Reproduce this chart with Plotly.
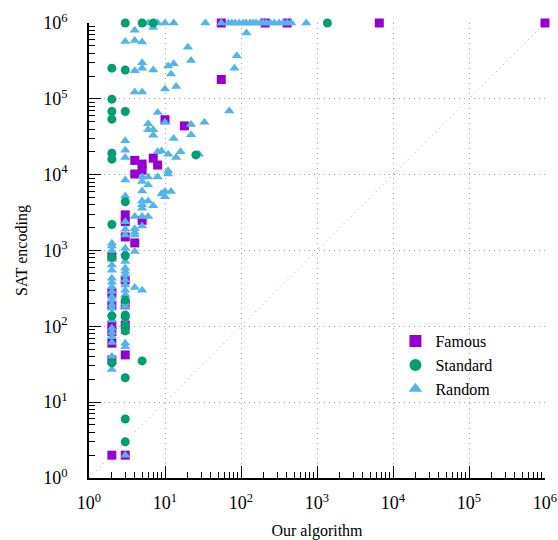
import plotly.graph_objects as go

# ---- data ----
famous_x = [2, 3, 1e6, 6600, 55, 208, 405, 55, 10, 18, 4, 5, 5, 7, 8, 4,
            3, 3, 5, 4, 3, 2, 3, 2, 2, 3, 3, 2, 2, 3, 2, 2]
famous_y = [2, 2, 1e6, 1e6, 1e6, 1e6, 1e6, 180000, 53000, 44000, 15400, 13800, 11500, 16500, 13400, 10200,
            2950, 2400, 2500, 1260, 1510, 824, 409, 276, 192, 192, 104, 104, 60, 42, 36, 85]

standard_x = [3, 5, 7, 1370, 2, 3, 2, 2, 3, 2, 2, 2, 25.5, 3, 2, 2, 3, 3, 2, 3, 3, 3, 3, 2, 5, 3, 3, 3]
standard_y = [1e6, 1e6, 1e6, 1e6, 254000, 240000, 99000, 68000, 68000, 54000, 19200, 16000, 18200, 4400, 2200,
              815, 850, 223, 137, 141, 133, 101, 87, 33, 35, 21, 6, 3]

random_top_x = [6, 8, 10, 13, 34, 55, 68, 76, 84, 95, 107, 117, 132, 145, 158, 179, 195, 215, 243, 274,
                317, 360, 405, 458, 722]
random_other_x = [7, 4, 3, 4, 5, 20, 118, 88, 82, 22, 5, 5, 4, 7, 11, 13, 12, 4, 5, 10, 14, 70, 8, 10, 6,
                  22, 33, 6, 7, 7, 13, 22, 3, 3, 3, 8, 9, 11, 16, 14, 28, 11, 11, 3, 5, 6, 5, 6, 8, 5, 9,
                  10, 12, 10, 3, 5, 6, 5, 7, 5, 4, 6, 5, 5, 3, 4, 3, 3, 4, 4, 4, 4, 5, 3]
random_other_y = [870000, 800000, 570000, 590000, 560000, 480000, 740000, 370000, 254000, 320000, 300000,
                  254000, 235000, 240000, 270000, 290000, 213000, 123000, 123000, 135000, 145000, 69000,
                  66000, 49000, 47000, 46000, 49000, 39000, 39000, 33000, 30000, 33500, 28000, 21000,
                  16800, 20000, 20500, 18600, 20000, 16800, 18600, 11300, 10200, 8500, 9300, 9300, 8100,
                  7300, 9300, 6100, 5600, 5100, 6000, 6000, 5250, 4500, 4500, 4000, 3900, 3600, 2800,
                  2800, 2800, 2100, 2400, 1930, 1900, 1600, 1740, 1600, 970, 325, 300, 2]
random_col2_y = [1250, 1150, 1000, 770, 645, 550, 430, 380, 333, 287, 245, 223, 192, 173, 148, 121, 94,
                 83, 73, 61, 40, 27]
random_col3_y = [1070, 940, 715, 583, 527, 477, 409, 350, 300, 260, 202, 182, 141, 110, 85, 60, 54]

random_x = random_top_x + random_other_x + [2] * len(random_col2_y) + [3] * len(random_col3_y)
random_y = [1e6] * len(random_top_x) + random_other_y + random_col2_y + random_col3_y

diag = [1, 1e6]
decades = [0, 1, 2, 3, 4, 5, 6]
tick_vals = [10 ** k for k in decades]
tick_text = [f"10<sup>{k}</sup>" for k in decades]

FONT = "Liberation Serif, Times New Roman, serif"
PURPLE = "#9400D3"
GREEN = "#009E73"
BLUE = "#56B4E9"
GRID = "#a0a0a0"

fig = go.Figure()
fig.add_trace(go.Scatter(x=diag, y=diag, mode="lines", showlegend=False, hoverinfo="skip",
                         line=dict(color=GRID, width=1, dash="1px,4px")))
fig.add_trace(go.Scatter(x=famous_x, y=famous_y, mode="markers", name="Famous", legendrank=1,
                         marker=dict(symbol="square", size=9, color=PURPLE), cliponaxis=False))
fig.add_trace(go.Scatter(x=random_x, y=random_y, mode="markers", name="Random", legendrank=3,
                         marker=dict(symbol="triangle-up", size=9, color=BLUE), cliponaxis=False))
fig.add_trace(go.Scatter(x=standard_x, y=standard_y, mode="markers", name="Standard", legendrank=2,
                         marker=dict(symbol="circle", size=9, color=GREEN), cliponaxis=False))

minor_vals = [m * 10 ** k for k in range(6) for m in range(2, 10)]

axis_common = dict(
    type="log", range=[0, 6], tickvals=tick_vals, ticktext=tick_text, automargin=False,
    ticks="inside", ticklen=12, tickwidth=1.2, tickcolor="black",
    showline=True, linecolor="black", linewidth=1.5, mirror=False,
    showgrid=True, gridcolor=GRID, griddash="1px,4px", gridwidth=1,
    zeroline=False, tickfont=dict(family=FONT, size=18, color="black"),
    minor=dict(tickvals=minor_vals, ticks="inside", ticklen=6, tickcolor="black", tickwidth=1, showgrid=False),
)

fig.update_xaxes(**axis_common, ticklabelstandoff=8,
                 title=dict(text="Our algorithm", font=dict(family=FONT, size=16, color="black"), standoff=16))
fig.update_yaxes(**axis_common, ticklabelstandoff=16,
                 title=dict(text="SAT encoding", font=dict(family=FONT, size=16, color="black"), standoff=12))

fig.update_layout(
    width=558, height=540,
    margin=dict(l=89, r=13, t=23, b=62),
    plot_bgcolor="white", paper_bgcolor="white",
    font=dict(family=FONT, size=16, color="black"),
    legend=dict(x=0.672, y=0.338, xanchor="left", yanchor="top", bgcolor="rgba(0,0,0,0)",
                font=dict(family=FONT, size=16), itemsizing="constant", tracegroupgap=0),
)

fig.write_html("out.html", config={"displayModeBar": False},
               post_script="document.body.style.margin='0';")
